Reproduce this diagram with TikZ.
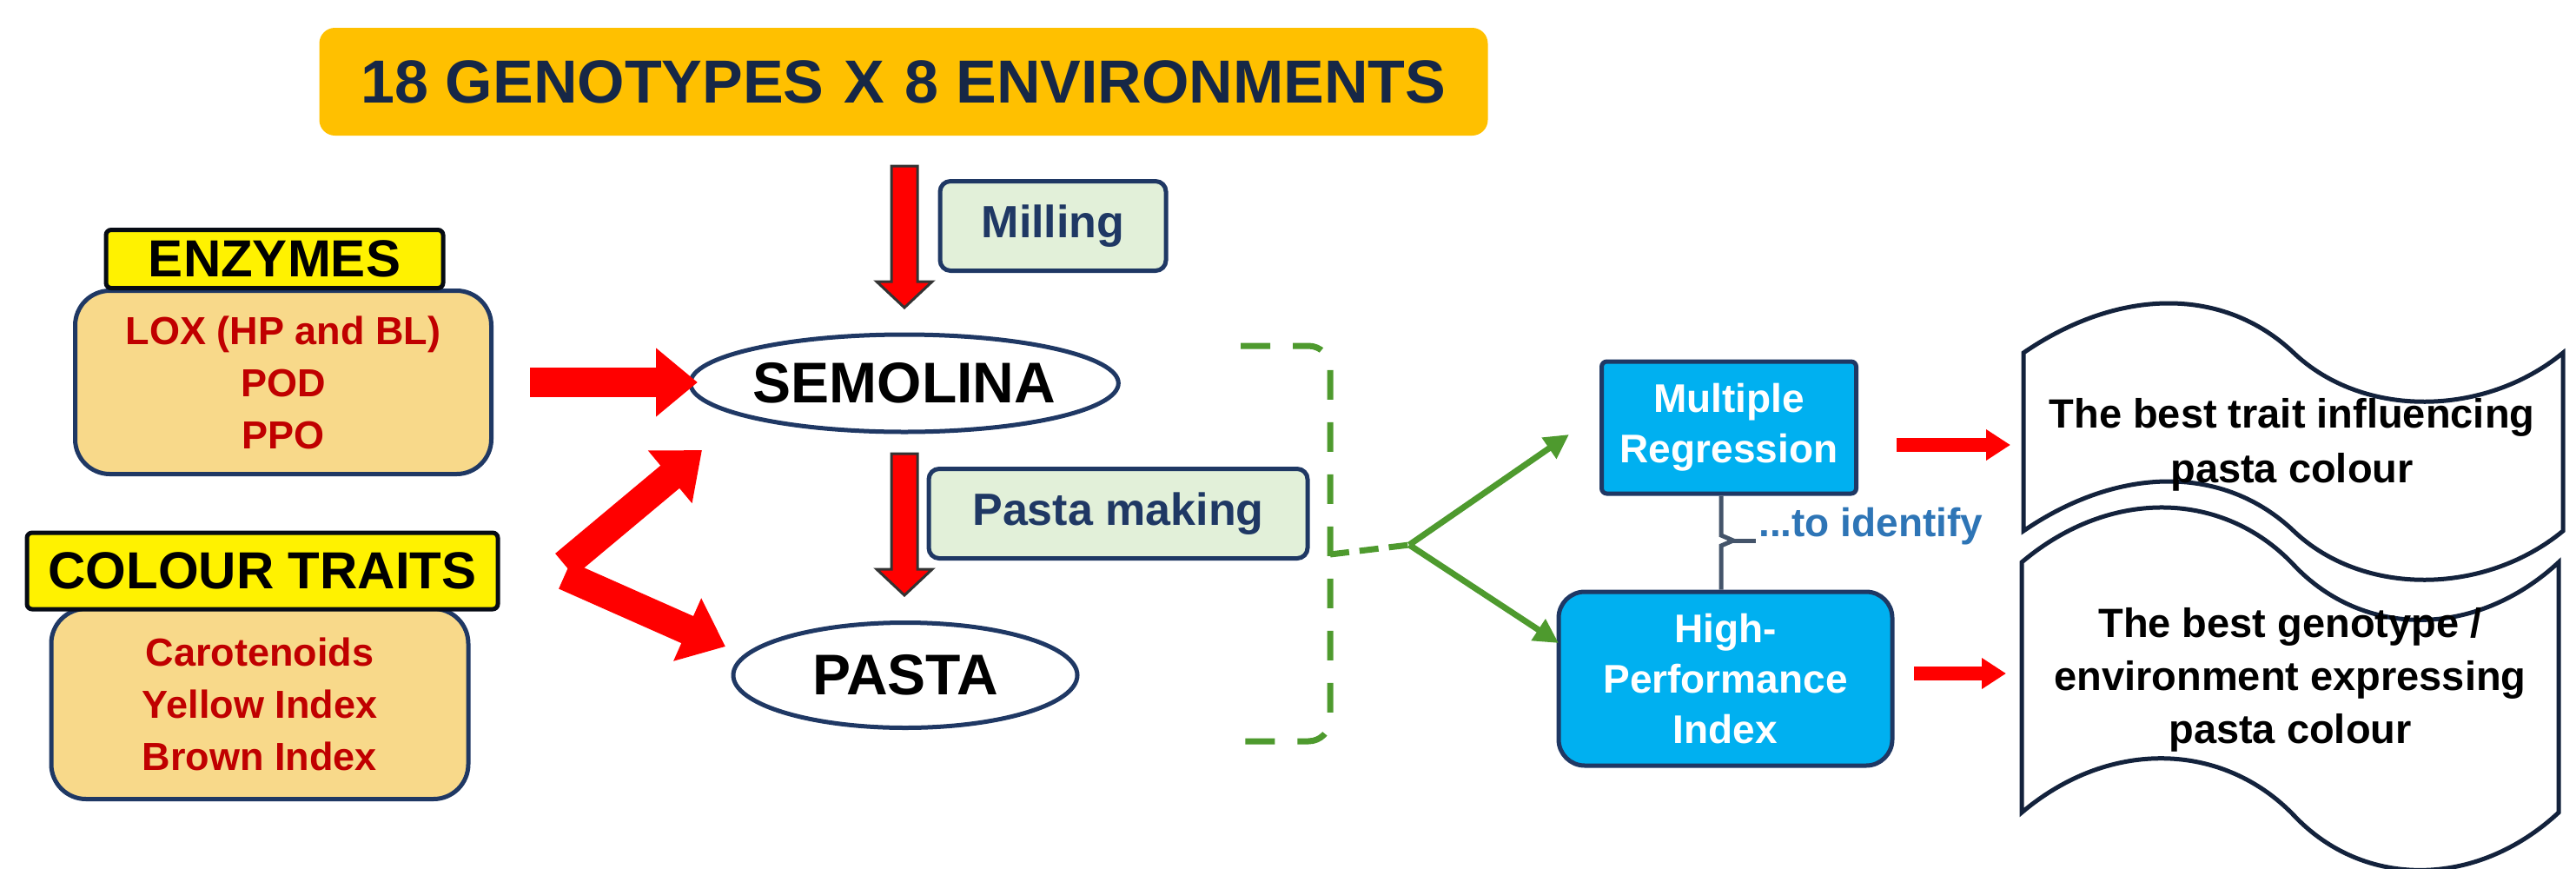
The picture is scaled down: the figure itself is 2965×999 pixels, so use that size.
\documentclass[tikz,border=0pt]{standalone}
\usepackage{fontspec}
\setmainfont{Liberation Sans}
\usetikzlibrary{arrows.meta,shapes.geometric}
\definecolor{gold}{HTML}{FFC000}
\definecolor{navy}{HTML}{1F3864}
\definecolor{lgreen}{HTML}{E2F0D9}
\definecolor{tan}{HTML}{F8D98A}
\definecolor{dred}{HTML}{C00000}
\definecolor{cyanb}{HTML}{00B0F0}
\definecolor{grn}{HTML}{4E9A2E}
\definecolor{slate}{HTML}{44546A}
\definecolor{idblue}{HTML}{2E75B6}
\newcommand{\fs}[1]{\fontsize{#1}{#1}\selectfont\bfseries}
\tikzset{
 box/.style={draw=navy,line width=5,rounded corners=#1,inner sep=0,align=center},
 stepbox/.style={box=12,fill=lgreen,text=navy,font=\fs{52}},
 headbox/.style={box=6,fill=yellow,draw=black!80!navy,font=\fs{60}},
 bodybox/.style={box=40,fill=tan,text=dred,font=\fontsize{45}{60}\selectfont\bfseries},
 prod/.style={ellipse,draw=navy,line width=5,fill=white,inner sep=0,font=\fs{66}},
 bluebox/.style={box=#1,fill=cyanb,text=white,font=\fontsize{46}{58}\selectfont\bfseries},
 fatarr/.style={red,line width=34,-{Triangle[width=76pt,length=48pt]}},
 rarr/.style={red,line width=16,-{Triangle[width=34pt,length=28pt]}},
 garr/.style={grn,line width=7,-{Triangle[width=28pt,length=28pt]}},
 docshape/.style={draw=navy!60!black,line width=5,fill=white},
 vshape/.style={fill=red,draw=black!80,line width=3}
}
\begin{document}
\begin{tikzpicture}[x=1pt,y=-1pt]
\useasboundingbox (0,0) rectangle (2965,999);
% title
\node[box=18,draw=none,fill=gold,minimum width=1345,minimum height=124,font=\fs{70},text=navy!70!black] (title) at (1040,94) {18 GENOTYPES\,\,X\,\,8 ENVIRONMENTS};
% vertical arrows
\draw[vshape] (1026,191) -- (1056,191) -- (1056,324) -- (1073,324) -- (1041,354) -- (1009,324) -- (1026,324) -- cycle;
\draw[vshape] (1026,522) -- (1056,522) -- (1056,655) -- (1073,655) -- (1041,685) -- (1009,655) -- (1026,655) -- cycle;
\node[stepbox,minimum width=260,minimum height=103] (mill) at (1212,260) {Milling};
\node[stepbox,minimum width=436,minimum height=103] (pm) at (1287,591) {Pasta making};
% products
\node[prod,minimum width=450,minimum height=112] (sem) at (1041,441) {SEMOLINA};
\node[prod,minimum width=396,minimum height=121] (pasta) at (1042,777) {PASTA};
% enzymes
\node[bodybox,minimum width=479,minimum height=211] (enzb) at (326,440) {LOX (HP and BL)\\POD\\PPO};
\node[headbox,minimum width=388,minimum height=67] (enzh) at (316,298) {ENZYMES};
\node[bodybox,minimum width=480,minimum height=219] (colb) at (299,810) {Carotenoids\\Yellow Index\\Brown Index};
\node[headbox,minimum width=542,minimum height=88] (colh) at (302,657) {COLOUR TRAITS};
% fat red arrows
\coordinate (e1) at (610,440); \coordinate (e2) at (803,440);
\draw[fatarr] (e1) -- (e2);
\coordinate (c1) at (650,650); \coordinate (c2) at (808,518);
\coordinate (c3) at (650,662); \coordinate (c4) at (835,744);
\draw[fatarr] (c1) -- (c2);
\draw[fatarr] (c3) -- (c4);
% bracket
\draw[grn,line width=7,dash pattern=on 34pt off 26pt,rounded corners=25] (1428,398) -- (1531,398) -- (1531,853) -- (1428,853);
\coordinate (br) at (1531,638); \coordinate (bp) at (1622,627);
\draw[grn,line width=7,dash pattern=on 22pt off 12pt] (br) -- (bp);
% blue boxes
\node[bluebox=6,minimum width=293,minimum height=152,draw=navy] (mr) at (1990,492) {Multiple\\Regression};
\node[bluebox=30,minimum width=384,minimum height=200,draw=navy] (hpi) at (1986,781) {High-\\Performance\\Index};
\coordinate (t1) at (1806,500); \coordinate (t2) at (1794,740);
\draw[garr] (bp) -- (t1);
\draw[garr] (bp) -- (t2);
\draw[slate,line width=5] (mr.south -| 1981,0) -- (1981,616) -- (1995,622) -- (1981,628) -- (hpi.north -| 1981,0);
\draw[slate,line width=5] (1995,622) -- (2021,622);
\node[anchor=west,text=idblue,font=\fs{46},inner sep=0] (id) at (2024,606) {...to identify};
% docs
\draw[docshape] (2329,406) .. controls (2440,330) and (2560,330) .. (2640,406) .. controls (2720,482) and (2860,480) .. (2950,406) -- (2950,611) .. controls (2860,685) and (2720,687) .. (2640,611) .. controls (2560,535) and (2440,535) .. (2329,611) -- cycle;
\node[font=\fontsize{47}{63}\selectfont\bfseries,align=center] (d1) at (2638,512) {The best trait influencing\\pasta colour};
\draw[docshape] (2327,647) .. controls (2430,560) and (2560,565) .. (2640,650) .. controls (2720,735) and (2850,735) .. (2945,647) -- (2945,935) .. controls (2850,1023) and (2720,1023) .. (2640,938) .. controls (2560,855) and (2430,848) .. (2327,935) -- cycle;
\node[font=\fontsize{47}{61}\selectfont\bfseries,align=center] (d2) at (2636,782) {The best genotype /\\environment expressing\\pasta colour};
\coordinate (r1) at (2183,512); \coordinate (r1e) at (2314,512);
\coordinate (r2) at (2203,775); \coordinate (r2e) at (2309,775);
\draw[rarr] (r1) -- (r1e);
\draw[rarr] (r2) -- (r2e);
\end{tikzpicture}
\end{document}
